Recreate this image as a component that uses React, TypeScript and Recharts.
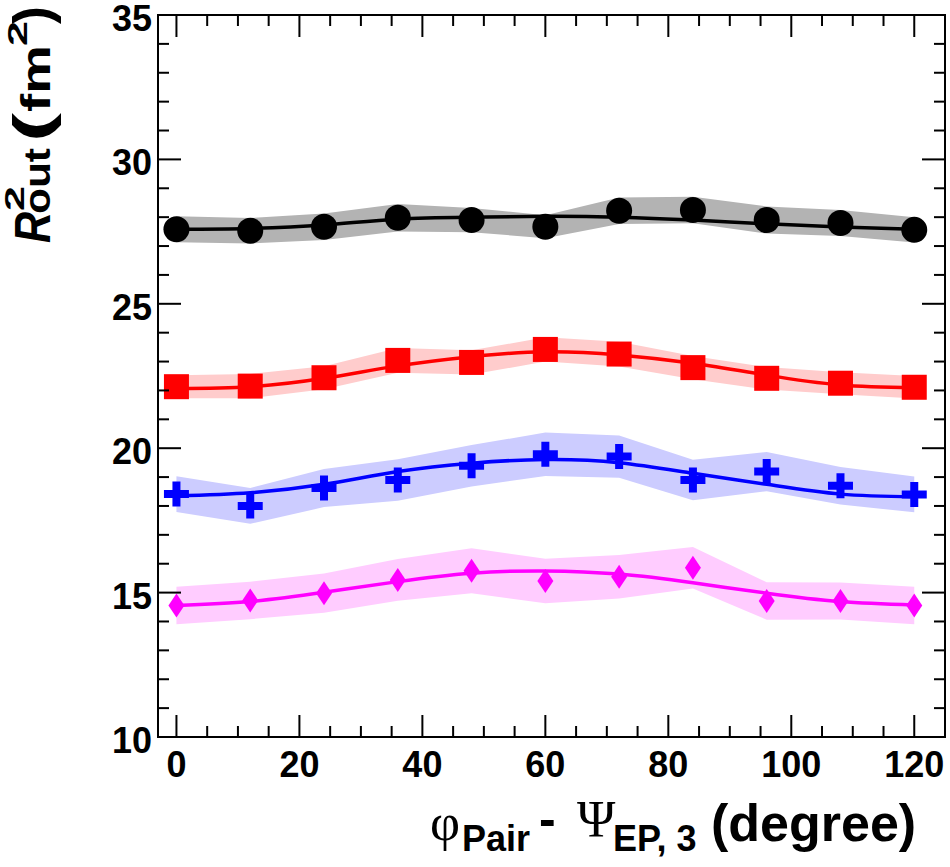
import React from 'react';
import { ComposedChart, Area, Line, Scatter, XAxis, YAxis, ReferenceArea } from 'recharts';

// phi_pair - Psi_EP,3 bins (degree)
const PHI = [0, 12, 24, 36, 48, 60, 72, 84, 96, 108, 120];

// R_out^2 (fm^2): points, systematic half-width, fit curve
const BLACK_VAL = [27.58, 27.53, 27.67, 27.98, 27.9, 27.67, 28.22, 28.25, 27.9, 27.8, 27.56];
const BLACK_SYS = [0.45, 0.44, 0.46, 0.48, 0.42, 0.4, 0.46, 0.46, 0.47, 0.45, 0.44];
const BLACK_FIT = [27.58, 27.61, 27.73, 27.93, 28.0, 28.03, 28.0, 27.9, 27.77, 27.66, 27.58];

const RED_VAL = [22.13, 22.15, 22.44, 23.04, 22.97, 23.42, 23.26, 22.79, 22.42, 22.25, 22.11];
const RED_SYS = [0.4, 0.42, 0.4, 0.43, 0.42, 0.42, 0.43, 0.4, 0.39, 0.38, 0.39];
const RED_FIT = [22.07, 22.13, 22.42, 22.85, 23.17, 23.34, 23.23, 22.94, 22.53, 22.19, 22.1];

const BLUE_VAL = [18.41, 18.0, 18.62, 18.9, 19.39, 19.79, 19.71, 18.9, 19.19, 18.7, 18.4];
const BLUE_SYS = [0.62, 0.62, 0.66, 0.72, 0.72, 0.75, 0.73, 0.7, 0.68, 0.65, 0.62];
const BLUE_FIT = [18.35, 18.46, 18.75, 19.19, 19.48, 19.61, 19.5, 19.13, 18.75, 18.41, 18.32];

const MAG_VAL = [14.55, 14.73, 14.98, 15.44, 15.76, 15.4, 15.55, 15.86, 14.71, 14.71, 14.55];
const MAG_SYS = [0.65, 0.65, 0.68, 0.72, 0.78, 0.77, 0.75, 0.72, 0.65, 0.64, 0.65];
const MAG_FIT = [14.55, 14.69, 15.01, 15.38, 15.67, 15.75, 15.64, 15.34, 14.98, 14.69, 14.57];

const X_TICKS = [0, 5, 10, 15, 20, 25, 30, 35, 40, 45, 50, 55, 60, 65, 70, 75, 80, 85, 90, 95, 100, 105, 110, 115, 120];
const Y_TICKS = [10, 11, 12, 13, 14, 15, 16, 17, 18, 19, 20, 21, 22, 23, 24, 25, 26, 27, 28, 29, 30, 31, 32, 33, 34, 35];

const W = 950;
const H = 867;
const PLOT_TOP = 15;
const PLOT_RIGHT = 945;
const FONT = '"Liberation Sans", Arial, Helvetica, sans-serif';
const SERIF = '"Liberation Serif", "Times New Roman", serif';

const band = (v: number[], s: number[], i: number) => [v[i] - s[i], v[i] + s[i]];

const rows = PHI.map((phi, i) => ({
  phi,
  kBand: band(BLACK_VAL, BLACK_SYS, i),
  kFit: BLACK_FIT[i],
  kVal: BLACK_VAL[i],
  rBand: band(RED_VAL, RED_SYS, i),
  rFit: RED_FIT[i],
  rVal: RED_VAL[i],
  bBand: band(BLUE_VAL, BLUE_SYS, i),
  bFit: BLUE_FIT[i],
  bVal: BLUE_VAL[i],
  mBand: band(MAG_VAL, MAG_SYS, i),
  mFit: MAG_FIT[i],
  mVal: MAG_VAL[i],
}));

function XTick({ x, y, payload }: any) {
  const v = payload.value;
  const major = v % 20 === 0;
  const len = major ? 22 : 11;
  return (
    <g>
      <line x1={x} x2={x} y1={y} y2={y - len} stroke="#000" strokeWidth={2} />
      <line x1={x} x2={x} y1={PLOT_TOP} y2={PLOT_TOP + len} stroke="#000" strokeWidth={2} />
      {major && (
        <text x={x} y={y + 40} textAnchor="middle" fontFamily={FONT} fontWeight="bold" fontSize={36} fill="#000">
          {v}
        </text>
      )}
    </g>
  );
}

function YTick({ x, y, payload }: any) {
  const v = payload.value;
  const major = v % 5 === 0;
  const len = major ? 23 : 11;
  return (
    <g>
      <line x1={x} x2={x + len} y1={y} y2={y} stroke="#000" strokeWidth={2} />
      <line x1={PLOT_RIGHT} x2={PLOT_RIGHT - len} y1={y} y2={y} stroke="#000" strokeWidth={2} />
      {major && (
        <text x={x - 6} y={y + 16} textAnchor="end" fontFamily={FONT} fontWeight="bold" fontSize={36} fill="#000">
          {v}
        </text>
      )}
    </g>
  );
}

const XTitle = () => (
  <text y={840} fontFamily={FONT} fontWeight="bold" fontSize={50} fill="#000">
    <tspan x={430} fontFamily={SERIF} fontWeight="normal" fontSize={52}>φ</tspan>
    <tspan x={462} y={851} fontSize={36}>Pair</tspan>
    <tspan x={539} y={836}>-</tspan>
    <tspan x={577} y={837} fontFamily={SERIF} fontWeight="normal" fontSize={52}>Ψ</tspan>
    <tspan x={613} y={851} fontSize={36}>EP, 3</tspan>
    <tspan x={711} y={841} fontSize={52}>(degree)</tspan>
  </text>
);

const fit = { lengthAdjust: 'spacingAndGlyphs' as const };

const YTitle = () => (
  <text transform="translate(50,243) rotate(-90)" fontFamily={FONT} fontWeight="bold" fill="#000">
    <tspan x={0} y={0} fontSize={50} fontStyle="italic" textLength={31} {...fit}>R</tspan>
    <tspan x={32} y={-26} fontSize={28} textLength={25} {...fit}>2</tspan>
    <tspan x={29} y={0} fontSize={36} textLength={66} {...fit}>out</tspan>
    <tspan x={101} y={0} fontSize={52} textLength={29} {...fit}>(</tspan>
    <tspan x={131} y={0} fontSize={40} textLength={67} {...fit}>fm</tspan>
    <tspan x={197} y={-23} fontSize={28} textLength={25} {...fit}>2</tspan>
    <tspan x={219} y={0} fontSize={52} textLength={18} {...fit}>)</tspan>
  </text>
);

const Circle = ({ cx, cy }: any) => <circle cx={cx} cy={cy} r={13} fill="#000" />;
const Square = ({ cx, cy }: any) => <rect x={cx - 12.5} y={cy - 12.5} width={25} height={25} fill="#ff0000" />;
const Cross = ({ cx, cy }: any) => (
  <path
    d={`M${cx - 4} ${cy - 12.5}h8v8.5h8.5v8h-8.5v8.5h-8v-8.5h-8.5v-8h8.5z`}
    fill="#0000ff"
  />
);
const Diamond = ({ cx, cy }: any) => (
  <path d={`M${cx} ${cy - 12}L${cx + 8} ${cy}L${cx} ${cy + 12}L${cx - 8} ${cy}Z`} fill="#ff00ff" />
);

export default function App() {
  return (
    <div style={{ position: 'absolute', left: 0, top: 0, width: W, height: H, background: '#fff' }}>
      <ComposedChart width={W} height={H} data={rows} margin={{ top: PLOT_TOP, right: W - PLOT_RIGHT, bottom: 100, left: 98 }}>
        <XAxis
          dataKey="phi"
          type="number"
          domain={[-3, 125]}
          ticks={X_TICKS}
          interval={0}
          height={30}
          tickSize={0}
          tickMargin={0}
          tickLine={false}
          tick={<XTick />}
          axisLine={{ stroke: '#000', strokeWidth: 2 }}
          allowDataOverflow
          label={{ content: () => <XTitle /> }}
        />
        <YAxis
          type="number"
          domain={[10, 35]}
          ticks={Y_TICKS}
          interval={0}
          width={60}
          tickSize={0}
          tickMargin={0}
          tickLine={false}
          tick={<YTick />}
          axisLine={{ stroke: '#000', strokeWidth: 2 }}
          allowDataOverflow
          label={{ content: () => <YTitle /> }}
        />
        <ReferenceArea x1={-3} x2={125} y1={10} y2={35} fill="none" stroke="#000" strokeWidth={2} ifOverflow="visible" />

        <Area dataKey="kBand" type="linear" stroke="none" fill="#b3b3b3" fillOpacity={1} isAnimationActive={false} />
        <Area dataKey="rBand" type="linear" stroke="none" fill="#ffcccc" fillOpacity={1} isAnimationActive={false} />
        <Area dataKey="bBand" type="linear" stroke="none" fill="#ccccff" fillOpacity={1} isAnimationActive={false} />
        <Area dataKey="mBand" type="linear" stroke="none" fill="#ffccff" fillOpacity={1} isAnimationActive={false} />

        <Line dataKey="kFit" type="natural" stroke="#000" strokeWidth={3.5} dot={false} activeDot={false} isAnimationActive={false} />
        <Line dataKey="rFit" type="natural" stroke="#ff0000" strokeWidth={3.5} dot={false} activeDot={false} isAnimationActive={false} />
        <Line dataKey="bFit" type="natural" stroke="#0000ff" strokeWidth={3.5} dot={false} activeDot={false} isAnimationActive={false} />
        <Line dataKey="mFit" type="natural" stroke="#ff00ff" strokeWidth={3.5} dot={false} activeDot={false} isAnimationActive={false} />

        <Scatter dataKey="kVal" shape={Circle} isAnimationActive={false} />
        <Scatter dataKey="rVal" shape={Square} isAnimationActive={false} />
        <Scatter dataKey="bVal" shape={Cross} isAnimationActive={false} />
        <Scatter dataKey="mVal" shape={Diamond} isAnimationActive={false} />
      </ComposedChart>
    </div>
  );
}
